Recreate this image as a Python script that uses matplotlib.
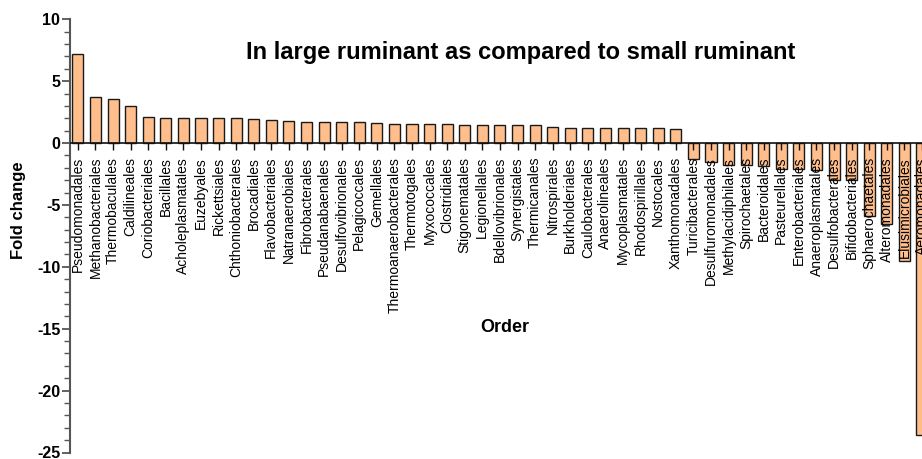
import matplotlib
matplotlib.use("Agg")
import matplotlib.pyplot as plt
from matplotlib.ticker import MultipleLocator

plt.rcParams['font.family'] = ['Liberation Sans', 'DejaVu Sans']
plt.rcParams['axes.unicode_minus'] = False

orders = [
    "Pseudomonadales", "Methanobacteriales", "Thermobaculales", "Caldilineales",
    "Coriobacteriales", "Bacillales", "Acholeplasmatales", "Euzebyales",
    "Rickettsiales", "Chthoniobacterales", "Brocadiales", "Flavobacteriales",
    "Natranaerobiales", "Fibrobacterales", "Pseudanabaenales", "Desulfovibrionales",
    "Pelagicoccales", "Gemellales", "Thermoanaerobacterales", "Thermotogales",
    "Myxococcales", "Clostridiales", "Stigonematales", "Legionellales",
    "Bdellovibrionales", "Synergistales", "Thermicanales", "Nitrospirales",
    "Burkholderiales", "Caulobacterales", "Anaerolineales", "Mycoplasmatales",
    "Rhodospirillales", "Nostocales", "Xanthomonadales", "Turicibacterales",
    "Desulfuromonadales", "Methylacidiphilales", "Spirochaetales", "Bacteroidales",
    "Pasteurellales", "Enterobacteriales", "Anaeroplasmatales", "Desulfobacterales",
    "Bifidobacteriales", "Sphaerochaetales", "Alteromonadales", "Elusimicrobiales",
    "Aeromonadales",
]
fold_change = [
    7.19, 3.76, 3.6, 2.98,
    2.14, 2.0, 2.0, 2.0,
    2.0, 2.0, 1.98, 1.9,
    1.8, 1.74, 1.74, 1.74,
    1.74, 1.66, 1.58, 1.58,
    1.58, 1.52, 1.49, 1.49,
    1.49, 1.42, 1.42, 1.3,
    1.24, 1.23, 1.23, 1.22,
    1.18, 1.18, 1.16, -1.32,
    -1.55, -1.75, -1.78, -1.88,
    -2.07, -2.07, -2.15, -2.95,
    -2.95, -5.9, -6.55, -9.55,
    -23.6,
]

fig = plt.figure(figsize=(9.22, 4.59), dpi=100)
ax = fig.add_axes([70/922, 1-452.5/459, 1-70/922, (452.5-19.3)/459])

x = list(range(len(orders)))
ax.bar(x, fold_change, width=0.63, color="#FFBE8C", edgecolor="#1a1a1a",
       linewidth=1.0, zorder=1)
ax.set_axisbelow(False)

ax.set_xlim(-0.45, (922-78)/17.62)
ax.set_ylim(-25, 10)

for s in ["top", "right"]:
    ax.spines[s].set_visible(False)
ax.spines["left"].set_color("#555555")
ax.spines["left"].set_linewidth(1.5)
ax.spines["bottom"].set_position(("data", 0))
ax.spines["bottom"].set_color("#111111")
ax.spines["bottom"].set_linewidth(1.2)

ax.yaxis.set_major_locator(MultipleLocator(5))
ax.yaxis.set_minor_locator(MultipleLocator(1))
ax.tick_params(axis="y", which="major", length=6, width=1.3, color="#555555",
               labelsize=11.5, pad=1)
ax.tick_params(axis="y", which="minor", length=4, width=1.0, color="#555555")
for t in ax.get_yticklabels():
    t.set_fontweight("bold")

ax.set_xticks(x)
ax.set_xticklabels(orders, rotation=90, fontsize=10, va="top", ha="center")
ax.tick_params(axis="x", which="major", length=5, width=1.0, color="#111111",
               pad=5)

fig.text(521/922, 1-53/459, "In large ruminant as compared to small ruminant",
         fontsize=17, fontweight="bold", ha="center", va="center")
fig.text(505/922, 1-327/459, "Order", fontsize=13, fontweight="bold",
         ha="center", va="center")
fig.text(19/922, 1-210/459, "Fold change", fontsize=12, fontweight="bold",
         ha="center", va="center", rotation=90)

fig.savefig("out.png", dpi=100)
